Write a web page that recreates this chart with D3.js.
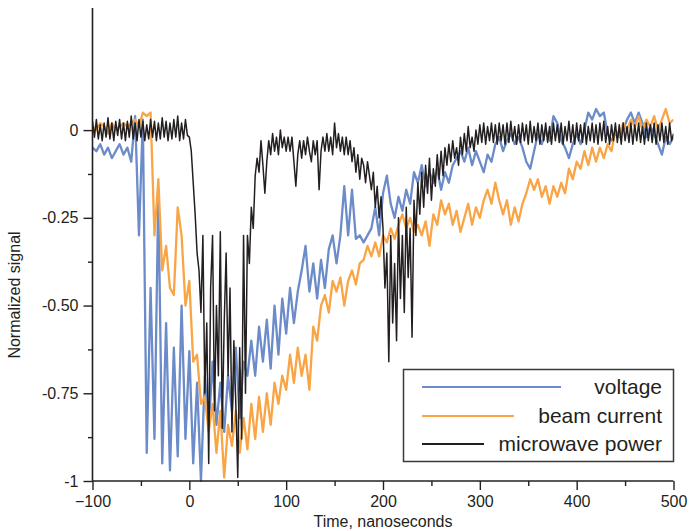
<!DOCTYPE html>
<html>
<head>
<meta charset="utf-8">
<script src="https://cdn.jsdelivr.net/npm/d3@7/dist/d3.min.js"></script>
<style>
  body { margin: 0; background: #fff; }
  svg { display: block; font-family: "Liberation Sans", Arial, sans-serif; }
</style>
</head>
<body>
<svg id="chart" width="691" height="531"></svg>
<script>
// sampled traces, time in ns
const voltageStart = -100, voltageStep = 4;
const voltage = [
  -0.05,-0.06,-0.04,-0.07,-0.05,-0.08,-0.06,-0.04,-0.07,-0.05,
  -0.09,0.04,-0.30,0.03,-0.92,-0.45,-0.88,-0.18,-0.95,-0.55,
  -0.97,-0.62,-0.93,-0.50,-0.88,-0.63,-0.95,-0.72,-1.0,-0.70,
  -0.85,-0.66,-0.84,-0.72,-0.86,-0.70,-0.80,-0.62,-0.82,-0.66,
  -0.70,-0.60,-0.70,-0.56,-0.66,-0.54,-0.68,-0.50,-0.64,-0.48,
  -0.58,-0.45,-0.55,-0.46,-0.40,-0.33,-0.46,-0.38,-0.48,-0.37,
  -0.45,-0.34,-0.30,-0.38,-0.30,-0.16,-0.30,-0.17,-0.31,-0.30,
  -0.32,-0.30,-0.28,-0.22,-0.30,-0.18,-0.13,-0.21,-0.25,-0.19,
  -0.23,-0.17,-0.21,-0.12,-0.15,-0.10,-0.16,-0.12,-0.15,-0.11,
  -0.17,-0.12,-0.15,-0.10,-0.08,-0.06,-0.09,-0.05,-0.10,-0.06,
  -0.09,-0.12,-0.07,-0.09,-0.04,-0.02,-0.06,-0.03,-0.01,-0.04,
  -0.02,-0.05,-0.09,-0.11,-0.06,-0.01,-0.04,0.00,-0.03,0.04,
  0.02,-0.03,-0.05,-0.08,-0.04,-0.01,-0.04,0.00,0.05,0.03,
  0.06,0.04,0.05,-0.01,-0.03,-0.01,-0.02,0.00,0.03,0.05,
  0.02,0.05,0.02,-0.02,0.01,-0.01,-0.04,-0.07,-0.02,-0.04,
  -0.02
];

const beamStart = -100, beamStep = 4;
const beamCurrent = [
  0.01,0.00,0.02,0.01,-0.01,0.02,0.00,0.01,0.02,0.01,
  0.02,0.03,0.01,0.05,0.04,0.05,-0.30,-0.14,-0.40,-0.33,
  -0.45,-0.47,-0.22,-0.30,-0.50,-0.43,-0.66,-0.64,-0.78,-0.76,
  -0.86,-0.78,-0.92,-0.80,-0.99,-0.84,-0.90,-0.80,-0.92,-0.82,
  -0.91,-0.78,-0.88,-0.76,-0.86,-0.75,-0.84,-0.72,-0.78,-0.70,
  -0.74,-0.64,-0.72,-0.62,-0.70,-0.64,-0.74,-0.56,-0.60,-0.50,
  -0.47,-0.52,-0.43,-0.46,-0.42,-0.50,-0.43,-0.40,-0.44,-0.38,
  -0.37,-0.33,-0.36,-0.32,-0.36,-0.30,-0.32,-0.28,-0.31,-0.27,
  -0.24,-0.28,-0.25,-0.29,-0.27,-0.30,-0.26,-0.33,-0.24,-0.27,
  -0.20,-0.24,-0.21,-0.27,-0.23,-0.29,-0.25,-0.21,-0.27,-0.22,
  -0.25,-0.20,-0.17,-0.21,-0.15,-0.20,-0.24,-0.20,-0.27,-0.22,
  -0.26,-0.21,-0.18,-0.14,-0.17,-0.14,-0.19,-0.16,-0.21,-0.16,
  -0.19,-0.15,-0.18,-0.11,-0.14,-0.09,-0.11,-0.06,-0.10,-0.05,
  -0.09,-0.05,-0.08,-0.04,-0.06,0.00,-0.02,0.02,0.00,0.03,
  0.01,0.04,0.00,0.03,0.01,0.04,0.00,0.03,0.06,0.02,
  0.03
];

const powerStart = -100, powerStep = 2;
const microwavePower = [
  0.025,-0.02,0.03,-0.025,0.015,-0.03,0.02,-0.02,0.035,-0.025,
  0.02,-0.03,0.025,-0.015,0.03,-0.025,0.02,-0.03,0.025,-0.02,
  0.04,-0.025,0.02,-0.03,0.03,-0.02,0.025,-0.03,0.015,-0.025,
  0.03,-0.02,0.025,-0.03,0.02,-0.025,0.035,-0.02,0.025,-0.03,
  0.02,-0.025,0.03,-0.02,0.04,-0.03,0.02,-0.025,0.03,-0.015,
  -0.02,-0.06,-0.15,-0.24,-0.35,-0.40,-0.52,-0.30,-0.75,-0.55,
  -0.95,-0.45,-0.30,-0.80,-0.50,-0.70,-0.29,-0.85,-0.55,-0.35,
  -0.70,-0.45,-0.86,-0.60,-0.78,-0.99,-0.62,-0.88,-0.30,-0.75,
  -0.30,-0.38,-0.22,-0.28,-0.13,-0.08,-0.12,-0.03,-0.10,-0.18,
  -0.09,-0.03,-0.07,-0.01,-0.06,-0.02,-0.07,0.00,-0.05,-0.02,
  -0.06,-0.02,-0.06,-0.02,-0.09,-0.16,-0.07,-0.03,-0.08,-0.03,
  -0.07,-0.02,-0.06,-0.09,-0.03,-0.07,-0.03,-0.17,-0.06,-0.02,
  -0.06,-0.01,-0.06,-0.02,-0.07,0.02,-0.05,-0.01,-0.06,-0.02,
  -0.07,-0.02,-0.07,-0.03,-0.09,-0.05,-0.12,-0.07,-0.14,-0.08,
  -0.10,-0.15,-0.09,-0.13,-0.17,-0.12,-0.22,-0.16,-0.25,-0.19,
  -0.28,-0.45,-0.35,-0.66,-0.30,-0.55,-0.38,-0.60,-0.25,-0.48,
  -0.30,-0.52,-0.22,-0.42,-0.28,-0.59,-0.20,-0.30,-0.15,-0.24,
  -0.12,-0.22,-0.10,-0.18,-0.08,-0.20,-0.11,-0.16,-0.07,-0.14,
  -0.06,-0.13,-0.05,-0.10,-0.04,-0.09,-0.03,-0.08,-0.05,-0.10,
  -0.02,-0.07,-0.01,-0.06,0.01,-0.05,-0.02,-0.06,0.00,-0.04,
  0.015,-0.035,0.02,-0.04,0.01,-0.03,0.02,-0.035,0.015,-0.04,
  0.02,-0.03,0.015,-0.04,0.02,-0.035,0.025,-0.03,0.01,-0.04,
  0.015,-0.035,0.02,-0.03,0.015,-0.04,0.025,-0.035,0.01,-0.03,
  0.02,-0.04,0.015,-0.03,0.02,-0.035,0.01,-0.04,0.02,-0.03,
  0.015,-0.035,0.02,-0.04,0.01,-0.03,0.025,-0.035,0.015,-0.04,
  0.02,-0.03,0.015,-0.035,0.02,-0.04,0.01,-0.03,0.02,-0.035,
  0.015,-0.04,0.02,-0.03,0.025,-0.035,0.01,-0.04,0.015,-0.03,
  0.02,-0.035,0.015,-0.04,0.02,-0.03,0.01,-0.035,0.02,-0.04,
  0.015,-0.03,0.02,-0.035,0.01,-0.04,0.02,-0.03,0.015,-0.035,
  0.02,-0.04,0.015,-0.03,0.02,-0.035,0.01,-0.04,0.02,-0.03,
  -0.01
];

const xTicks = [-100, 0, 100, 200, 300, 400, 500];
const xMinorTicks = [-50, 50, 150, 250, 350, 450];
const yTicks = [0, -0.25, -0.5, -0.75, -1];
const yTickLabels = ["0", "-0.25", "-0.50", "-0.75", "-1"];
const yMinorTicks = [-0.125, -0.375, -0.625, -0.875];
const seriesNames = ["voltage", "beam current", "microwave power"];
const seriesColors = ["#6b8bc9", "#f9a545", "#231f20"];

const svg = d3.select("#chart");
const axisColor = "#231f20";

const x = d3.scaleLinear().domain([-100, 500]).range([92.5, 673.5]);
const y = d3.scaleLinear().domain([-1, 0.348]).range([481, 8]);

const toPoints = (vals, start, step) => vals.map((v, i) => [start + i * step, v]);

const series = [
  { name: seriesNames[0], color: seriesColors[0], width: 2.3, pts: toPoints(voltage, voltageStart, voltageStep) },
  { name: seriesNames[1], color: seriesColors[1], width: 2.3, pts: toPoints(beamCurrent, beamStart, beamStep) },
  { name: seriesNames[2], color: seriesColors[2], width: 1.5, pts: toPoints(microwavePower, powerStart, powerStep) }
];

svg.append("clipPath").attr("id", "plotclip")
  .append("rect").attr("x", x(-100)).attr("y", y(0.348))
  .attr("width", x(500) - x(-100)).attr("height", y(-1) - y(0.348) + 1);

const line = d3.line().x(d => x(d[0])).y(d => y(d[1]));

svg.append("g").attr("clip-path", "url(#plotclip)")
  .selectAll("path")
  .data(series)
  .enter()
  .append("path")
  .attr("d", d => line(d.pts))
  .attr("fill", "none")
  .attr("stroke", d => d.color)
  .attr("stroke-width", d => d.width)
  .attr("stroke-linejoin", "round");

// x axis
const xAxis = svg.append("g")
  .attr("transform", `translate(0, ${y(-1)})`)
  .call(d3.axisBottom(x).tickValues(xTicks).tickSize(9).tickPadding(6).tickFormat(d3.format("d")));
svg.append("g")
  .attr("transform", `translate(0, ${y(-1)})`)
  .call(d3.axisBottom(x).tickValues(xMinorTicks).tickSize(5).tickFormat(""))
  .select(".domain").remove();

// y axis
const yAxis = svg.append("g")
  .attr("transform", `translate(${x(-100)}, 0)`)
  .call(d3.axisLeft(y).tickValues(yTicks).tickSize(9).tickPadding(5)
    .tickFormat((d, i) => yTickLabels[i]));
svg.append("g")
  .attr("transform", `translate(${x(-100)}, 0)`)
  .call(d3.axisLeft(y).tickValues(yMinorTicks).tickSize(4.5).tickFormat(""))
  .select(".domain").remove();

xAxis.select(".domain").remove();
yAxis.select(".domain").remove();
svg.append("line")
  .attr("x1", x(-100)).attr("x2", x(500)).attr("y1", y(-1)).attr("y2", y(-1))
  .attr("stroke", axisColor).attr("stroke-width", 1.6);
svg.append("line")
  .attr("x1", x(-100)).attr("x2", x(-100)).attr("y1", y(0.348)).attr("y2", y(-1))
  .attr("stroke", axisColor).attr("stroke-width", 1.6);

svg.selectAll(".tick line").attr("stroke", axisColor).attr("stroke-width", 1.4);
svg.selectAll(".tick text")
  .attr("fill", axisColor)
  .attr("font-size", "16px")
  .attr("font-family", "'Liberation Sans', Arial, sans-serif");

// axis titles
svg.append("text")
  .attr("x", 383).attr("y", 527)
  .attr("text-anchor", "middle")
  .attr("font-size", "16px")
  .attr("fill", axisColor)
  .text("Time, nanoseconds");

svg.append("text")
  .attr("transform", "rotate(-90)")
  .attr("x", -295).attr("y", 20)
  .attr("text-anchor", "middle")
  .attr("font-size", "16px")
  .attr("fill", axisColor)
  .text("Normalized signal");

// legend
const legend = svg.append("g");
legend.append("rect")
  .attr("x", 403.5).attr("y", 369.5).attr("width", 270).attr("height", 92)
  .attr("fill", "#fff").attr("stroke", "#3a3a3a").attr("stroke-width", 1.5);

const legendLineEnd = [561, 514, 484];
const legendY = [387, 416, 444];
series.forEach((s, i) => {
  legend.append("line")
    .attr("x1", 422).attr("x2", legendLineEnd[i])
    .attr("y1", legendY[i]).attr("y2", legendY[i])
    .attr("stroke", s.color).attr("stroke-width", 2);
  legend.append("text")
    .attr("x", 662).attr("y", legendY[i] + 7)
    .attr("text-anchor", "end")
    .attr("font-size", "21px")
    .attr("fill", axisColor)
    .text(s.name);
});
</script>
</body>
</html>
